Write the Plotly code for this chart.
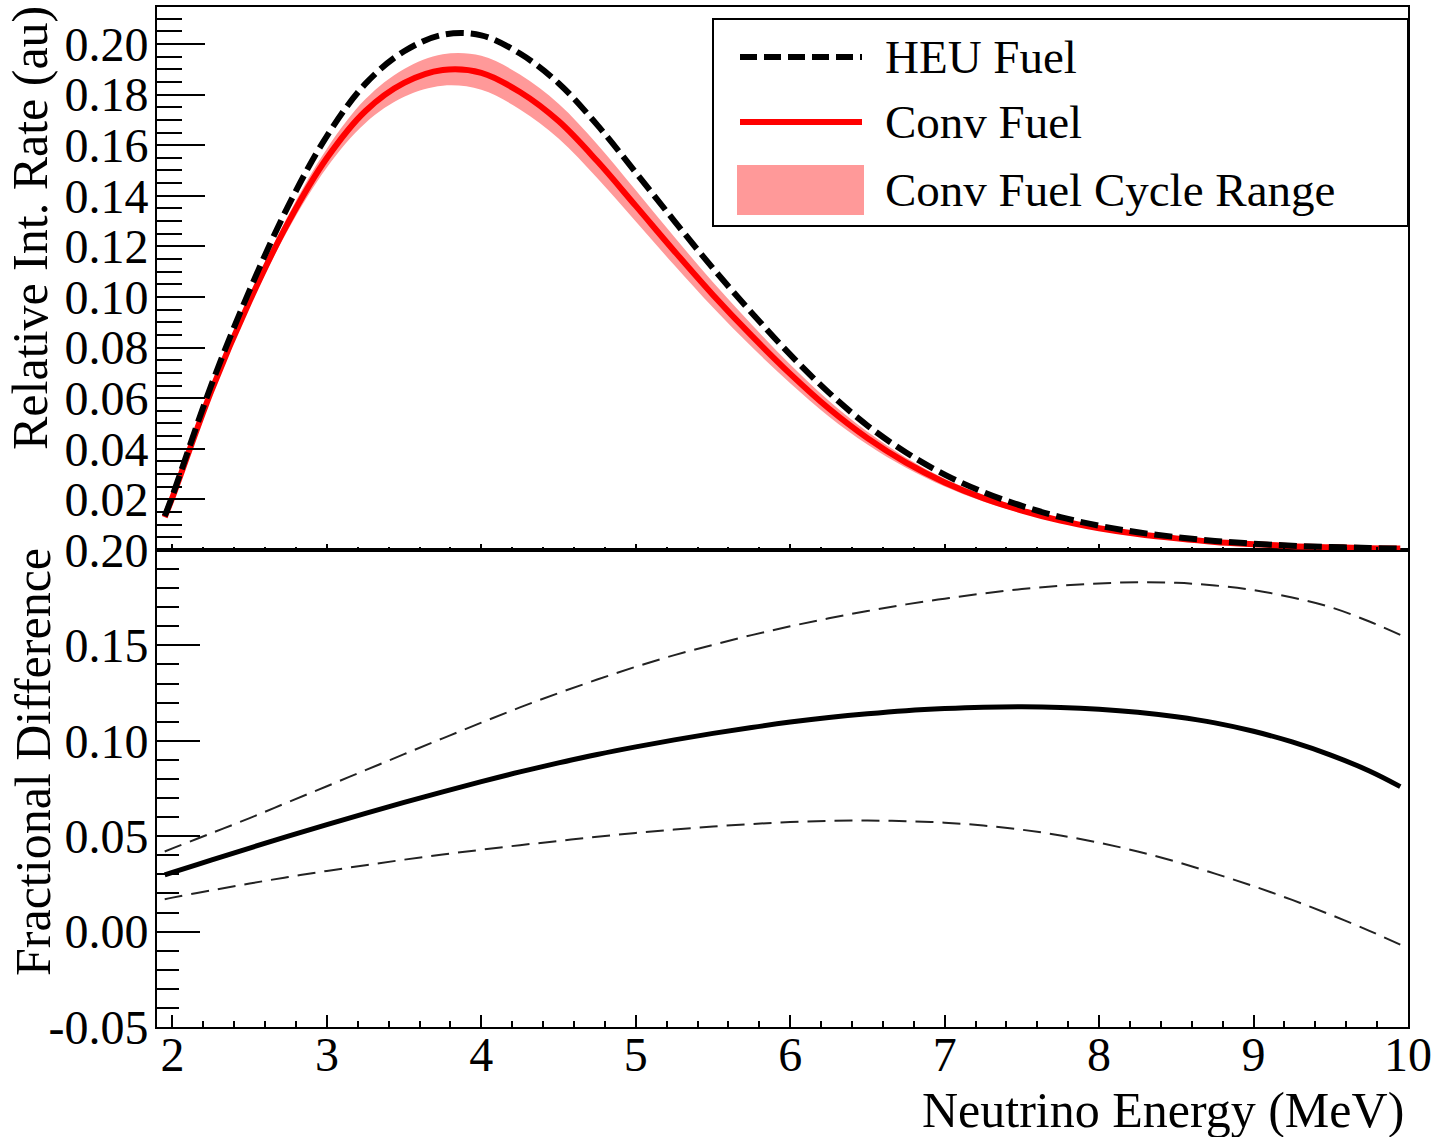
import plotly.graph_objects as go

# ---------------- data ----------------
energy = [1.95, 2.0, 2.25, 2.5, 2.75, 3.0, 3.25, 3.5, 3.75, 4.0, 4.25, 4.5, 4.75,
          5.0, 5.25, 5.5, 5.75, 6.0, 6.25, 6.5, 6.75, 7.0, 7.25, 7.5, 7.75, 8.0,
          8.25, 8.5, 8.75, 9.0, 9.25, 9.5, 9.75, 9.95]

heu_rate = [0.0134, 0.0214, 0.0649, 0.1027, 0.1360, 0.1636, 0.1843, 0.1971, 0.2036,
            0.2034, 0.1962, 0.1845, 0.1680, 0.1492, 0.1300, 0.1113, 0.0938, 0.0772,
            0.0622, 0.0492, 0.0385, 0.0298, 0.0229, 0.0174, 0.0130, 0.0096, 0.0070,
            0.0051, 0.0036, 0.0025, 0.0017, 0.0012, 0.0008, 0.0006]

conv_rate = [0.0130, 0.0208, 0.0626, 0.0984, 0.1295, 0.1549, 0.1735, 0.1846, 0.1897,
             0.1886, 0.1810, 0.1695, 0.1537, 0.1360, 0.1181, 0.1008, 0.0847, 0.0696,
             0.0559, 0.0442, 0.0345, 0.0267, 0.0205, 0.0156, 0.0116, 0.0086, 0.0063,
             0.0046, 0.0032, 0.0023, 0.0015, 0.0011, 0.0007, 0.0006]

conv_band_hi = [0.0132, 0.0211, 0.0636, 0.1003, 0.1323, 0.1586, 0.1782, 0.1901, 0.1959,
                0.1953, 0.1879, 0.1764, 0.1604, 0.1422, 0.1237, 0.1058, 0.0891, 0.0733,
                0.0590, 0.0467, 0.0365, 0.0283, 0.0218, 0.0166, 0.0124, 0.0092, 0.0068,
                0.0050, 0.0035, 0.0025, 0.0016, 0.0012, 0.0008, 0.0007]

conv_band_lo = [0.0128, 0.0205, 0.0616, 0.0965, 0.1267, 0.1512, 0.1688, 0.1791, 0.1835,
                0.1819, 0.1741, 0.1626, 0.1470, 0.1298, 0.1125, 0.0958, 0.0803, 0.0659,
                0.0528, 0.0417, 0.0325, 0.0251, 0.0192, 0.0146, 0.0108, 0.0080, 0.0058,
                0.0042, 0.0029, 0.0021, 0.0014, 0.0010, 0.0006, 0.0005]

frac_mid = [0.0297, 0.0310, 0.0375, 0.0438, 0.0500, 0.0561, 0.0620, 0.0677, 0.0732,
            0.0786, 0.0837, 0.0884, 0.0928, 0.0968, 0.1005, 0.1039, 0.1070, 0.1098,
            0.1122, 0.1142, 0.1158, 0.1169, 0.1176, 0.1178, 0.1175, 0.1166, 0.1150,
            0.1126, 0.1094, 0.1050, 0.0994, 0.0925, 0.0842, 0.0760]

frac_hi = [0.0420, 0.0436, 0.0515, 0.0595, 0.0679, 0.0762, 0.0846, 0.0930, 0.1013,
           0.1095, 0.1175, 0.1250, 0.1321, 0.1388, 0.1449, 0.1503, 0.1554, 0.1600,
           0.1642, 0.1680, 0.1715, 0.1745, 0.1772, 0.1795, 0.1813, 0.1825, 0.1831,
           0.1828, 0.1814, 0.1790, 0.1751, 0.1700, 0.1625, 0.1555]

frac_lo = [0.0170, 0.0178, 0.0216, 0.0252, 0.0286, 0.0318, 0.0348, 0.0377, 0.0404,
           0.0429, 0.0453, 0.0475, 0.0497, 0.0517, 0.0535, 0.0551, 0.0564, 0.0574,
           0.0580, 0.0582, 0.0579, 0.0571, 0.0556, 0.0534, 0.0504, 0.0466, 0.0420,
           0.0366, 0.0304, 0.0238, 0.0166, 0.0088, 0.0004, -0.0068]

x_ticks = [2, 3, 4, 5, 6, 7, 8, 9, 10]
top_y_ticks = [0.02, 0.04, 0.06, 0.08, 0.10, 0.12, 0.14, 0.16, 0.18, 0.20]
top_y_labels = ["0.02", "0.04", "0.06", "0.08", "0.10", "0.12", "0.14", "0.16", "0.18", "0.20"]
bot_y_ticks = [-0.05, 0.0, 0.05, 0.10, 0.15, 0.20]
bot_y_labels = ["-0.05", "0.00", "0.05", "0.10", "0.15", "0.20"]

legend_labels = ["HEU Fuel", "Conv Fuel", "Conv Fuel Cycle Range"]

# ---------------- styling / layout ----------------
FONT = "Liberation Serif"
W, H = 1436, 1137
L, R, T, B = 157, 1408, 7, 1027       # plot area in px
SPLIT = 550                            # px boundary between pads
split_frac = (B - SPLIT) / (B - T)


def px_x(px):
    return (px - L) / (R - L)


def px_y(py):
    return (B - py) / (B - T)


fig = go.Figure()

# top pad
fig.add_trace(go.Scatter(x=energy, y=conv_band_lo, mode="lines", line=dict(width=0, shape="spline"),
                         xaxis="x2", yaxis="y2", showlegend=False, hoverinfo="skip"))
fig.add_trace(go.Scatter(x=energy, y=conv_band_hi, mode="lines", line=dict(width=0, shape="spline"),
                         fill="tonexty", fillcolor="#ff9999", xaxis="x2", yaxis="y2",
                         name=legend_labels[2], showlegend=False))
fig.add_trace(go.Scatter(x=energy, y=conv_rate, mode="lines",
                         line=dict(color="#ff0000", width=6, shape="spline"),
                         xaxis="x2", yaxis="y2", name=legend_labels[1], showlegend=False))
fig.add_trace(go.Scatter(x=energy, y=heu_rate, mode="lines",
                         line=dict(color="black", width=6, dash="18px,7px", shape="spline"),
                         xaxis="x2", yaxis="y2", name=legend_labels[0], showlegend=False))

# bottom pad
fig.add_trace(go.Scatter(x=energy, y=frac_hi, mode="lines",
                         line=dict(color="#222222", width=2, dash="18px,9px", shape="spline"),
                         xaxis="x", yaxis="y", showlegend=False))
fig.add_trace(go.Scatter(x=energy, y=frac_lo, mode="lines",
                         line=dict(color="#222222", width=2, dash="18px,9px", shape="spline"),
                         xaxis="x", yaxis="y", showlegend=False))
fig.add_trace(go.Scatter(x=energy, y=frac_mid, mode="lines",
                         line=dict(color="black", width=5, shape="spline"),
                         xaxis="x", yaxis="y", showlegend=False))

axis_common = dict(showgrid=False, zeroline=False, showline=True, linecolor="black",
                   linewidth=2, mirror=True, ticks="inside", tickcolor="black", tickwidth=2,
                   automargin=False,
                   tickfont=dict(family=FONT, size=48, color="black"))


def minor(length, dtick, tick0):
    return dict(ticks="inside", ticklen=length, tickwidth=2, tickcolor="black",
                tickmode="linear", tick0=tick0, dtick=dtick, showgrid=False)


fig.update_layout(
    width=W, height=H, autosize=False,
    margin=dict(l=L, r=W - R, t=T, b=H - B, pad=0),
    paper_bgcolor="white", plot_bgcolor="white",
    showlegend=False,
    font=dict(family=FONT, color="black"),
    xaxis=dict(domain=[0, 1], range=[1.9, 10], anchor="y", tickmode="array", tickvals=x_ticks,
               ticklen=12, minor=minor(6, 0.2, 2), ticklabelstandoff=-16, **axis_common),
    xaxis2=dict(domain=[0, 1], range=[1.9, 10], anchor="y2", matches="x", tickmode="array",
                tickvals=x_ticks, showticklabels=False, ticklen=6, minor=minor(3, 0.2, 2),
                **axis_common),
    yaxis=dict(domain=[0, split_frac], range=[-0.05, 0.20], anchor="x", tickmode="array",
               tickvals=bot_y_ticks, ticktext=bot_y_labels, ticklen=43,
               minor=minor(22, 0.01, 0), ticklabelstandoff=-3, **axis_common),
    yaxis2=dict(domain=[split_frac, 1], range=[0, 0.2146], anchor="x2", tickmode="array",
                tickvals=top_y_ticks, ticktext=top_y_labels, ticklen=48,
                minor=minor(25, 0.005, 0), ticklabelstandoff=-3, **axis_common),
)

# axis titles
title_font = dict(family=FONT, size=50, color="black")
fig.add_annotation(text="Relative Int. Rate (au)", xref="paper", yref="paper",
                   x=px_x(30), y=px_y(228), textangle=-90, showarrow=False,
                   xanchor="center", yanchor="middle", font=title_font)
fig.add_annotation(text="Fractional Difference", xref="paper", yref="paper",
                   x=px_x(33), y=px_y(762), textangle=-90, showarrow=False,
                   xanchor="center", yanchor="middle", font=title_font)
fig.add_annotation(text="Neutrino Energy (MeV)", xref="paper", yref="paper",
                   x=px_x(1406), y=px_y(1110), showarrow=False,
                   xanchor="right", yanchor="middle", font=title_font)

# legend (drawn manually to match the reference box)
fig.add_shape(type="rect", xref="paper", yref="paper", x0=px_x(713), x1=px_x(1408),
              y0=px_y(226), y1=px_y(19), line=dict(color="black", width=2), fillcolor="white",
              layer="above")
fig.add_shape(type="line", xref="paper", yref="paper", x0=px_x(740), x1=px_x(862),
              y0=px_y(57), y1=px_y(57), line=dict(color="black", width=6, dash="17px,7px"),
              layer="above")
fig.add_shape(type="line", xref="paper", yref="paper", x0=px_x(740), x1=px_x(862),
              y0=px_y(122), y1=px_y(122), line=dict(color="#ff0000", width=6), layer="above")
fig.add_shape(type="rect", xref="paper", yref="paper", x0=px_x(737), x1=px_x(864),
              y0=px_y(215), y1=px_y(165), line=dict(width=0), fillcolor="#ff9999", layer="above")
legend_font = dict(family=FONT, size=47, color="black")
for lbl, py in zip(legend_labels, [57, 122, 190]):
    fig.add_annotation(text=lbl, xref="paper", yref="paper", x=px_x(883), y=px_y(py),
                       showarrow=False, xanchor="left", yanchor="middle", font=legend_font)

fig.write_html("out.html")
